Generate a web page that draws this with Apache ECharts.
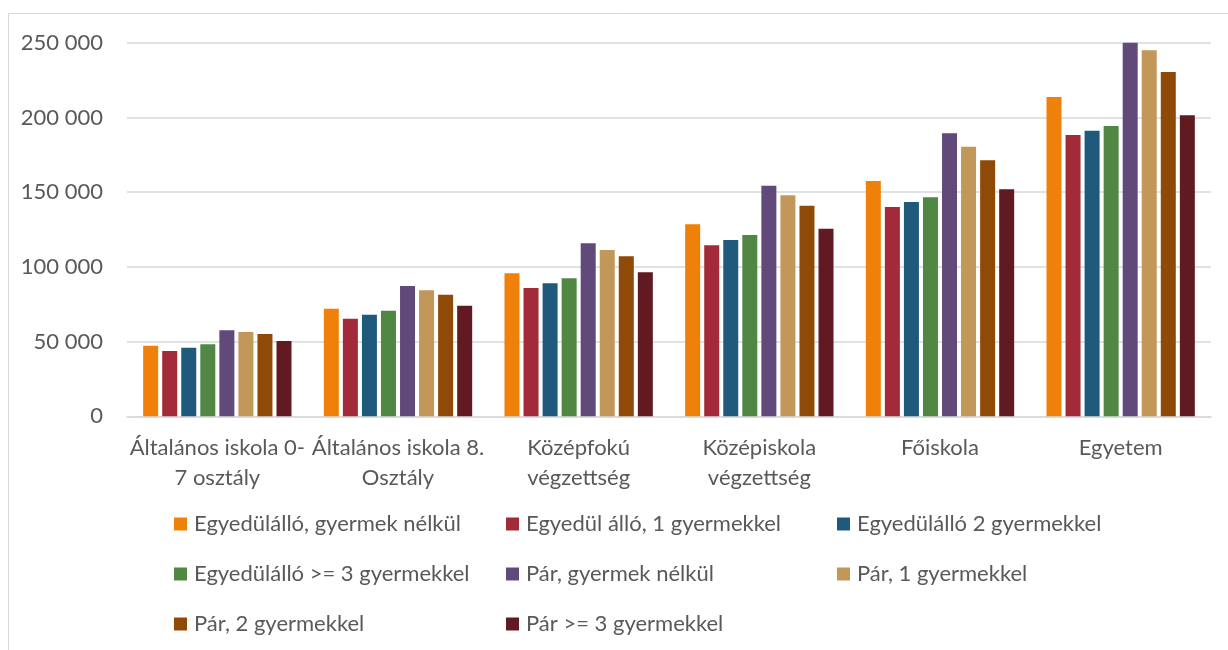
<!DOCTYPE html>
<html><head><meta charset="utf-8">
<script src="https://cdn.jsdelivr.net/npm/echarts@6/dist/echarts.min.js"></script>
<style>html,body{margin:0;padding:0;background:#fff}#c{width:1228px;height:650px}</style>
</head><body><div id="c"></div>
<script>
const categories = ['Általános iskola 0-\n7 osztály','Általános iskola 8.\nOsztály','Középfokú\nvégzettség','Középiskola\nvégzettség','Főiskola','Egyetem'];
const seriesNames = ['Egyedülálló, gyermek nélkül','Egyedül álló, 1 gyermekkel','Egyedülálló 2 gyermekkel','Egyedülálló >= 3 gyermekkel','Pár, gyermek nélkül','Pár, 1 gyermekkel','Pár, 2 gyermekkel','Pár >= 3 gyermekkel'];
const colors = ['#EF800A','#A32A38','#1F5A7D','#4F8743','#614A79','#C2975A','#8E4A06','#611A22'];
const s1 = [47200, 72000, 95700, 128500, 157500, 213700];
const s2 = [43700, 65300, 85900, 114400, 140100, 188200];
const s3 = [45900, 68000, 89000, 118000, 143400, 191100];
const s4 = [48200, 70700, 92300, 121300, 146600, 194300];
const s5 = [57500, 87200, 115800, 154300, 189400, 251000];
const s6 = [56400, 84300, 111300, 147900, 180400, 244900];
const s7 = [55100, 81400, 107100, 140900, 171300, 230400];
const s8 = [50400, 74000, 96400, 125500, 151900, 201500];
const values = [s1,s2,s3,s4,s5,s6,s7,s8];

const fontFamily = 'Lato, "Open Sans", sans-serif';
const textColor = '#595959';
const chart = echarts.init(document.getElementById('c'));
const legendCols = [[0,3,6],[1,4,7],[2,5]];
const legendLeft = [169, 501, 832];
chart.setOption({
  animation: false,
  graphic: [{type:'rect', shape:{x:8.5,y:13.5,width:1260,height:700}, style:{fill:'none', stroke:'#d9d9d9', lineWidth:1}}],
  grid: {left: 127, right: 17, top: 42.7, bottom: 233.7, containLabel: false},
  xAxis: {
    type: 'category', data: categories,
    axisLine: {show: true, lineStyle: {color: '#d9d9d9', width: 1.5}},
    axisTick: {show: false},
    axisLabel: {interval: 0, color: textColor, fontFamily, fontSize: 22, lineHeight: 30, margin: 17}
  },
  yAxis: {
    type: 'value', min: 0, max: 250000, interval: 50000,
    axisLine: {show: false}, axisTick: {show: false},
    splitLine: {lineStyle: {color: '#d9d9d9', width: 1.5}},
    axisLabel: {color: textColor, fontFamily, fontSize: 22, margin: 24,
      formatter: v => v === 0 ? '0' : String(v).replace(/\B(?=(\d{3})+(?!\d))/g, ' ')}
  },
  legend: legendCols.map((col, i) => ({
    orient: 'vertical', left: legendLeft[i], top: 508,
    itemWidth: 13, itemHeight: 13, itemGap: 28,
    icon: 'rect',
    data: col.map(k => seriesNames[k]),
    textStyle: {color: textColor, fontFamily, fontSize: 22, lineHeight: 22, padding: [0,0,0,2]}
  })),
  series: seriesNames.map((n, i) => ({
    name: n, type: 'bar', data: values[i], barWidth: 15, barGap: '27%',
    itemStyle: {color: colors[i]}
  }))
});
</script></body></html>
